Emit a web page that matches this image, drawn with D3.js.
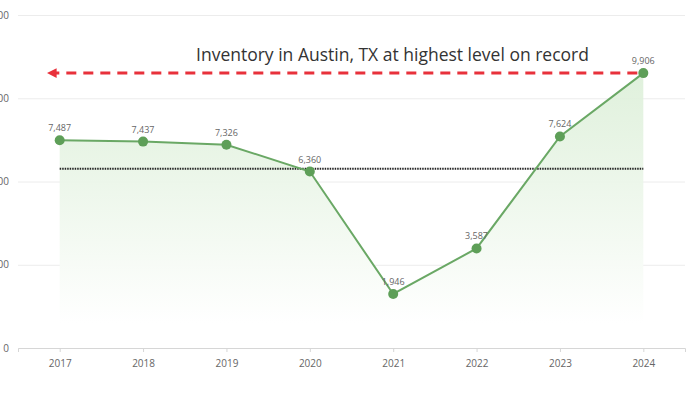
<!DOCTYPE html>
<html>
<head>
<meta charset="utf-8">
<script src="https://cdn.jsdelivr.net/npm/d3@7"></script>
<style>
  html, body { margin: 0; padding: 0; background: #fff; overflow: hidden; }
  text { font-family: "Open Sans", "Noto Sans", sans-serif; }
</style>
</head>
<body>
<div id="wrapper"></div>
<script>
const years = ["2017", "2018", "2019", "2020", "2021", "2022", "2023", "2024"]
const inventory = [7487, 7437, 7326, 6360, 1946, 3587, 7624, 9906]
const yTicks = [0, 3000, 6000, 9000, 12000]
const title = "Inventory in Austin, TX at highest level on record"

const dimensions = {
  width: 700,
  height: 394,
  margin: { top: 15, right: 15, bottom: 46, left: 18 }
}
dimensions.boundedWidth = dimensions.width - dimensions.margin.left - dimensions.margin.right
dimensions.boundedHeight = dimensions.height - dimensions.margin.top - dimensions.margin.bottom

const data = years.map((y, i) => ({ year: y, value: inventory[i] }))
const average = d3.mean(inventory)

const xScale = d3.scalePoint()
  .domain(years)
  .range([0, dimensions.boundedWidth])
  .padding(0.5)

const yScale = d3.scaleLinear()
  .domain([0, 12000])
  .range([dimensions.boundedHeight, 0])

const svg = d3.select("#wrapper")
  .append("svg")
  .attr("width", dimensions.width)
  .attr("height", dimensions.height)

const defs = svg.append("defs")
const grad = defs.append("linearGradient")
  .attr("id", "areaFill")
  .attr("gradientUnits", "userSpaceOnUse")
  .attr("x1", 0).attr("x2", 0)
  .attr("y1", yScale(10000)).attr("y2", yScale(900))
grad.append("stop").attr("offset", "0%").attr("stop-color", "#dcefd8").attr("stop-opacity", 0.9)
grad.append("stop").attr("offset", "100%").attr("stop-color", "#ffffff").attr("stop-opacity", 1)

defs.append("marker")
  .attr("id", "arrowHead")
  .attr("viewBox", "0 0 10 10")
  .attr("refX", 2).attr("refY", 5)
  .attr("markerWidth", 3.2).attr("markerHeight", 3.2)
  .attr("orient", "auto-start-reverse")
  .append("path")
  .attr("d", "M0,0 L10,5 L0,10 Z")
  .attr("fill", "#e8313b")

const bounds = svg.append("g")
  .attr("transform", `translate(${dimensions.margin.left},${dimensions.margin.top})`)

// gridlines + y labels (cut off at the left edge, like the source image)
const yAxis = d3.axisLeft(yScale)
  .tickValues(yTicks)
  .tickSize(-dimensions.boundedWidth)
  .tickFormat(d3.format(","))
const yAxisG = bounds.append("g").call(yAxis)
yAxisG.select(".domain").remove()
yAxisG.selectAll(".tick line").attr("stroke", "#ececec").attr("stroke-width", 1)
yAxisG.selectAll(".tick text")
  .attr("x", -9)
  .attr("fill", "#666")
  .style("font-size", "10px")

// area
const area = d3.area()
  .x(d => xScale(d.year))
  .y0(yScale(0))
  .y1(d => yScale(d.value))
bounds.append("path")
  .datum(data)
  .attr("d", area)
  .attr("fill", "url(#areaFill)")

// x axis
const xAxis = d3.axisBottom(xScale).tickSize(4).tickPadding(8)
const xAxisG = bounds.append("g")
  .attr("transform", `translate(0,${dimensions.boundedHeight})`)
  .call(xAxis)
xAxisG.select(".domain").attr("stroke", "#d6d6d6")
xAxisG.selectAll(".tick line").attr("stroke", "#d6d6d6")
xAxisG.selectAll(".tick text").attr("fill", "#666").style("font-size", "10px")

// average line
bounds.append("line")
  .attr("x1", xScale(years[0]))
  .attr("x2", xScale(years[years.length - 1]))
  .attr("y1", yScale(average))
  .attr("y2", yScale(average))
  .attr("stroke", "#222")
  .attr("stroke-width", 2)
  .attr("stroke-dasharray", "1.5,1")

// record arrow
const recordY = yScale(d3.max(inventory))
bounds.append("line")
  .attr("x1", xScale(years[years.length - 1]) - 6)
  .attr("x2", xScale(years[0]) - 5)
  .attr("y1", recordY)
  .attr("y2", recordY)
  .attr("stroke", "#e8313b")
  .attr("stroke-width", 3)
  .attr("stroke-dasharray", "10,7")
  .attr("marker-end", "url(#arrowHead)")

bounds.append("text")
  .attr("x", (xScale(years[0]) + xScale(years[years.length - 1])) / 2 + 41)
  .attr("y", recordY - 12)
  .attr("text-anchor", "middle")
  .attr("fill", "#333")
  .style("font-size", "17.5px")
  .text(title)

// line
const line = d3.line()
  .x(d => xScale(d.year))
  .y(d => yScale(d.value))
bounds.append("path")
  .datum(data)
  .attr("d", line)
  .attr("fill", "none")
  .attr("stroke", "#6aa865")
  .attr("stroke-width", 2)

bounds.selectAll(".dot")
  .data(data)
  .join("circle")
  .attr("cx", d => xScale(d.year))
  .attr("cy", d => yScale(d.value))
  .attr("r", 5)
  .attr("fill", "#5e9f58")

bounds.selectAll(".label")
  .data(data)
  .join("text")
  .attr("x", d => xScale(d.year))
  .attr("y", d => yScale(d.value) - 9)
  .attr("text-anchor", "middle")
  .attr("fill", "#666")
  .style("font-size", "9px")
  .text(d => d3.format(",")(d.value))
</script>
</body>
</html>
